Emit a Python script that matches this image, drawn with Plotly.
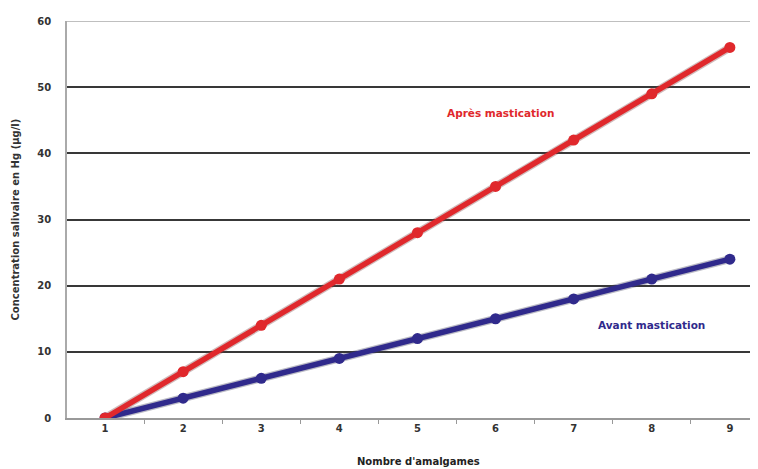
import plotly.graph_objects as go

amalgames = [1, 2, 3, 4, 5, 6, 7, 8, 9]
apres = [0, 7, 14, 21, 28, 35, 42, 49, 56]
avant = [0, 3, 6, 9, 12, 15, 18, 21, 24]
y_ticks = [0, 10, 20, 30, 40, 50, 60]

red = "#e0282c"
blue = "#302a8c"
font_fam = "DejaVu Sans"

fig = go.Figure()
# soft shadow under the lines
for ys, col in [(apres, "rgba(120,60,60,0.35)"), (avant, "rgba(60,60,90,0.35)")]:
    fig.add_trace(go.Scatter(x=amalgames, y=ys, mode="lines",
                             line=dict(color=col, width=8), hoverinfo="skip",
                             showlegend=False))
fig.add_trace(go.Scatter(x=amalgames, y=avant, mode="lines+markers",
                         line=dict(color=blue, width=5.5),
                         marker=dict(color=blue, size=11), name="Avant mastication",
                         showlegend=False))
fig.add_trace(go.Scatter(x=amalgames, y=apres, mode="lines+markers",
                         line=dict(color=red, width=5.5),
                         marker=dict(color=red, size=11), name="Après mastication",
                         showlegend=False))

fig.add_annotation(x=6.06, y=46.1, text="<b>Après mastication</b>", showarrow=False,
                   font=dict(family=font_fam, size=10.5, color=red))
fig.add_annotation(x=8.0, y=14.05, text="<b>Avant mastication</b>", showarrow=False,
                   font=dict(family=font_fam, size=10.5, color=blue))

# axis titles as annotations (fixed positions)
fig.add_annotation(xref="paper", yref="paper", x=(418 - 67) / 691, y=-43 / 397,
                   text="<b>Nombre d'amalgames</b>", showarrow=False,
                   xanchor="center", yanchor="middle",
                   font=dict(family=font_fam, size=10, color="#222"))
fig.add_annotation(xref="paper", yref="paper", x=-52 / 691, y=0.5,
                   text="<b>Concentration salivaire en Hg (µg/l)</b>", showarrow=False,
                   textangle=-90, xanchor="center", yanchor="middle",
                   font=dict(family=font_fam, size=10, color="#333"))

# top light grey line at 60
fig.add_shape(type="line", xref="paper", yref="y", x0=0, x1=1, y0=60, y1=60,
              line=dict(color="#aaa", width=1.5))

fig.update_layout(
    width=750, height=461,
    margin=dict(l=59, r=0, t=13, b=51),
    paper_bgcolor="white", plot_bgcolor="white",
    font=dict(family=font_fam, size=10, color="#333"),
    xaxis=dict(range=[0.513, 9.36], tickvals=amalgames,
               ticktext=[f"<b>{v}</b>" for v in amalgames], ticks="",
               automargin=False,
               showgrid=False, zeroline=False,
               showline=True, linecolor="#999", linewidth=1.5,
               tickfont=dict(family=font_fam, size=10, color="#333"),
               minor=dict(tick0=0.5, dtick=1, ticks="outside", ticklen=4,
                          tickcolor="#999", showgrid=False)),
    yaxis=dict(range=[0, 60], tickvals=y_ticks[:-1] + [59.999],
               ticktext=[f"<b>{v}</b>" for v in y_ticks],
               ticks="", automargin=False,
               showgrid=True, gridcolor="#383838", gridwidth=1.8,
               zeroline=False, showline=True, linecolor="#aaa", linewidth=1.5,
               ticklabelstandoff=12,
               tickfont=dict(family=font_fam, size=10, color="#333")),
)

fig.write_html("out.html")
